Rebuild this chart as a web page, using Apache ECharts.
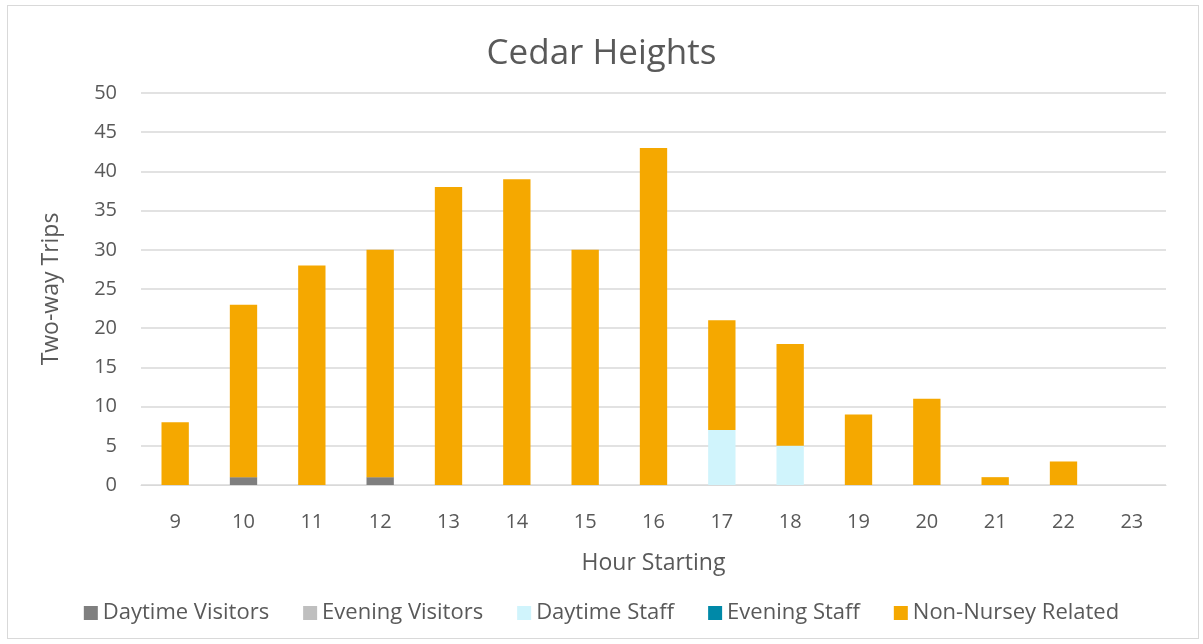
<!DOCTYPE html>
<html>
<head>
<meta charset="utf-8">
<script src="https://cdn.jsdelivr.net/npm/echarts@6/dist/echarts.min.js"></script>
<style>
  html, body { margin: 0; padding: 0; background: #fff; }
  #frame { position: absolute; left: 7px; top: 5px; width: 1192px; height: 634px; border: 1px solid #d9d9d9; box-sizing: border-box; }
  #chart-container { position: absolute; left: 0; top: 0; width: 1203px; height: 644px; }
</style>
</head>
<body>
<div id="frame"></div>
<div id="chart-container"></div>
<script>
var hours = ['9', '10', '11', '12', '13', '14', '15', '16', '17', '18', '19', '20', '21', '22', '23'];
var daytimeVisitors = [0, 1, 0, 1, 0, 0, 0, 0, 0, 0, 0, 0, 0, 0, 0];
var eveningVisitors = [0, 0, 0, 0, 0, 0, 0, 0, 0, 0, 0, 0, 0, 0, 0];
var daytimeStaff = [0, 0, 0, 0, 0, 0, 0, 0, 7, 5, 0, 0, 0, 0, 0];
var eveningStaff = [0, 0, 0, 0, 0, 0, 0, 0, 0, 0, 0, 0, 0, 0, 0];
var nonNursey = [8, 22, 28, 29, 38, 39, 30, 43, 14, 13, 9, 11, 1, 3, 0];

var dom = document.getElementById('chart-container');
var myChart = echarts.init(dom, null, { renderer: 'canvas' });

var font = '"Open Sans", "Noto Sans", sans-serif';
var textColor = '#595959';

function bar(name, data, color) {
  return {
    name: name,
    type: 'bar',
    stack: 'total',
    barWidth: '40%',
    data: data,
    itemStyle: { color: color },
    emphasis: { disabled: true }
  };
}

var option = {
  animation: false,
  textStyle: { fontFamily: font },
  title: {
    text: 'Cedar Heights',
    left: 'center',
    top: 32,
    textStyle: { fontSize: 35, fontWeight: 'normal', color: textColor, fontFamily: font }
  },
  legend: {
    bottom: 15,
    left: 'center',
    itemWidth: 14,
    itemHeight: 14,
    itemGap: 34,
    icon: 'rect',
    textStyle: { fontSize: 22, color: textColor, fontFamily: font }
  },
  grid: { left: 141, right: 37, top: 93, bottom: 159 },
  xAxis: {
    type: 'category',
    data: hours,
    name: 'Hour Starting',
    nameLocation: 'middle',
    nameGap: 67,
    nameTextStyle: { fontSize: 23, color: textColor },
    axisLine: { lineStyle: { color: '#d9d9d9', width: 1 } },
    axisTick: { show: false },
    axisLabel: { fontSize: 20, color: textColor, margin: 27 }
  },
  yAxis: {
    type: 'value',
    min: 0,
    max: 50,
    interval: 5,
    name: 'Two-way Trips',
    nameLocation: 'middle',
    nameGap: 78,
    nameTextStyle: { fontSize: 23, color: textColor },
    axisLabel: { fontSize: 20, color: textColor, margin: 24 },
    splitLine: { lineStyle: { color: '#d9d9d9', width: 1.5 } }
  },
  series: [
    bar('Daytime Visitors', daytimeVisitors, '#7f7f7f'),
    bar('Evening Visitors', eveningVisitors, '#bfbfbf'),
    bar('Daytime Staff', daytimeStaff, '#d0f4fc'),
    bar('Evening Staff', eveningStaff, '#0089a8'),
    bar('Non-Nursey Related', nonNursey, '#f5a800')
  ]
};

myChart.setOption(option);
window.addEventListener('resize', myChart.resize);
</script>
</body>
</html>
